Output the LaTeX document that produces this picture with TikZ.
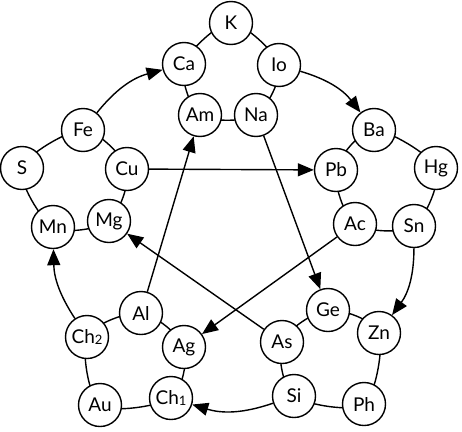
\documentclass[tikz,border=0pt]{standalone}
\usepackage{fontspec}
\setmainfont{Lato}
\usetikzlibrary{arrows.meta,backgrounds}
\newcommand{\mysub}[1]{\raisebox{-0.5pt}{\fontsize{13}{13}\selectfont #1}}
\begin{document}
\begin{tikzpicture}[x=1pt,y=-1pt,
  el/.style={circle,draw,line width=1.4pt,fill=white,minimum size=43pt,inner sep=0pt,font=\fontsize{19}{19}\selectfont},
  ring/.style={line width=1.4pt},
  arr/.style={line width=1.4pt,-{Triangle[length=16pt,width=13pt]}}]
\useasboundingbox (0,0) rectangle (462,431);
\node[el] (K) at (231,23) {K};
\node[el] (Ca) at (184,64) {Ca};
\node[el] (Io) at (279,65) {Io};
\node[el] (Am) at (200,115) {Am};
\node[el] (Na) at (256,115) {Na};
\node[el] (Fe) at (83,130) {Fe};
\node[el] (S) at (22,168) {S};
\node[el] (Cu) at (127,169) {Cu};
\node[el] (Ba) at (374,130) {Ba};
\node[el] (Pb) at (336,170) {Pb};
\node[el] (Hg) at (436,168) {Hg};
\node[el] (Mn) at (53,227) {Mn};
\node[el] (Mg) at (109,221) {Mg};
\node[el] (Ac) at (355,224) {Ac};
\node[el] (Sn) at (414,226) {Sn};
\node[el] (Al) at (141,313) {Al};
\node[el] (Ch2) at (87,337) {Ch\mysub{2}};
\node[el] (Ag) at (184,347) {Ag};
\node[el] (Ge) at (328,310) {Ge};
\node[el] (As) at (282,342) {As};
\node[el] (Zn) at (379,333) {Zn};
\node[el] (Au) at (100,405) {Au};
\node[el] (Ch1) at (171,398) {Ch\mysub{1}};
\node[el] (Si) at (294,396) {Si};
\node[el] (Ph) at (364,404) {Ph};
\begin{scope}[on background layer]
\draw[ring] plot[smooth cycle] coordinates {(K) (Io) (Na) (Am) (Ca)};
\draw[ring] plot[smooth cycle] coordinates {(Ba) (Hg) (Sn) (Ac) (Pb)};
\draw[ring] plot[smooth cycle] coordinates {(Zn) (Ph) (Si) (As) (Ge)};
\draw[ring] plot[smooth cycle] coordinates {(Ag) (Ch1) (Au) (Ch2) (Al)};
\draw[ring] plot[smooth cycle] coordinates {(Mg) (Mn) (S) (Fe) (Cu)};
\end{scope}
\draw[arr] (Fe) to[bend left=18] (Ca);
\draw[arr] (Io) to[bend left=18] (Ba);
\draw[arr] (Sn) to[bend left=18] (Zn);
\draw[arr] (Si) to[bend left=18] (Ch1);
\draw[arr] (Ch2) to[bend left=16] (Mn);
\draw[arr] (Al) -- (Am);
\draw[arr] (Na) -- (Ge);
\draw[arr] (Cu) -- (Pb);
\draw[arr] (Ac) -- (Ag);
\draw[arr] (As) -- (Mg);
\end{tikzpicture}
\end{document}
